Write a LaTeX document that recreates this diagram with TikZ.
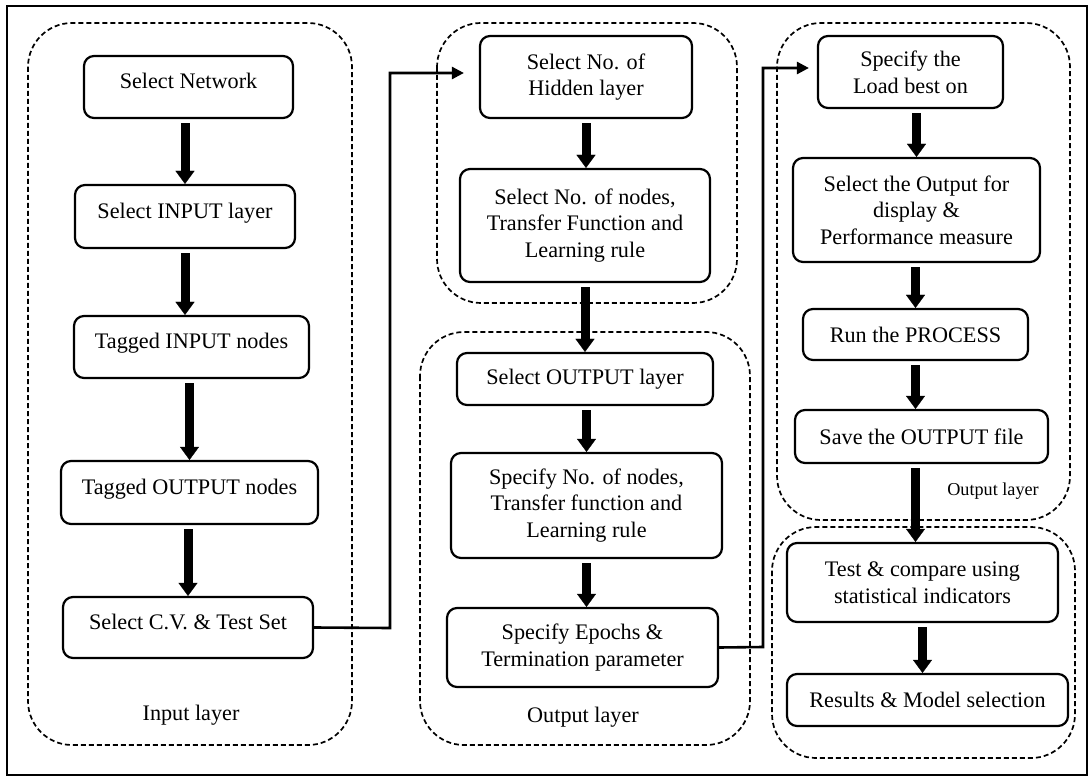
\documentclass[tikz,border=0pt]{standalone}
\usepackage{fontspec}
\setmainfont{Liberation Serif}
\usetikzlibrary{arrows.meta,calc}
\begin{document}
\begin{tikzpicture}[x=0.5pt,y=-0.5pt,
 proc/.style={draw, line width=1.1pt, rounded corners=5pt, align=center, inner sep=0pt, font=\fontsize{11.1}{13.3}\selectfont},
 raised/.style={text depth=6pt},
 grp/.style={draw, dash pattern=on 2.5pt off 1.5pt, line width=0.85pt, rounded corners=22pt},
 blk/.style={line width=4.5pt, -{Triangle[width=9.5pt,length=6.5pt,line width=0.1pt]}, shorten <=2pt},
 link/.style={line width=1.3pt, -{Triangle[width=6pt,length=6pt]}},
 lbl/.style={font=\fontsize{11.1}{13.3}\selectfont},
 slbl/.style={font=\fontsize{9.1}{11}\selectfont}]
\useasboundingbox (0,0) rectangle (1091,780);
\draw[line width=1pt] (7,6) rectangle (1087,775);
% containers
\draw[grp] (28,23) rectangle (352,745);
\draw[grp] (437,23) rectangle (737,303);
\draw[grp] (420,332) rectangle (750,745);
\draw[grp] (777,23) rectangle (1070,520);
\draw[grp] (772,527) rectangle (1075,758);
% input column
\node[proc, raised, minimum width=104.5pt, minimum height=31pt] (n1) at (188.5,87) {Select Network};
\node[proc, raised, minimum width=110pt, minimum height=31.5pt] (n2) at (185,216.5) {Select INPUT layer};
\node[proc, raised, minimum width=117.5pt, minimum height=31pt] (n3) at (191.5,347) {Tagged INPUT nodes};
\node[proc, raised, minimum width=128.5pt, minimum height=31.5pt] (n4) at (189.5,492.5) {Tagged OUTPUT nodes};
\node[proc, raised, minimum width=125pt, minimum height=30.5pt] (n5) at (188,627.5) {Select C.V. \& Test Set};
\node[lbl] (lin) at (191,715) {Input layer};
% middle column
\node[proc, minimum width=106pt, minimum height=41pt] (m1) at (586,77) {Select No. of\\Hidden layer};
\node[proc, minimum width=125pt, minimum height=56.5pt] (m2) at (585,225.5) {Select No. of nodes,\\Transfer Function and\\Learning rule};
\node[proc, minimum width=128pt, minimum height=26pt] (m3) at (585,379) {Select OUTPUT layer};
\node[proc, minimum width=135.5pt, minimum height=52.5pt] (m4) at (586.5,505.5) {Specify No. of nodes,\\Transfer function and\\Learning rule};
\node[proc, minimum width=135.5pt, minimum height=39.5pt] (m5) at (582.5,647.5) {Specify Epochs \&\\Termination parameter};
\node[lbl] (lout) at (583,717) {Output layer};
% right column
\node[proc, minimum width=92.5pt, minimum height=36pt] (r1) at (910.5,72) {Specify the\\Load best on};
\node[proc, minimum width=123.5pt, minimum height=52pt] (r2) at (916.5,210) {Select the Output for\\display \&\\Performance measure};
\node[proc, minimum width=112.5pt, minimum height=25.5pt] (r3) at (915.5,334.5) {Run the PROCESS};
\node[proc, minimum width=126.5pt, minimum height=26.5pt] (r4) at (921.5,436.5) {Save the OUTPUT file};
\node[slbl] (lout2) at (993,491) {Output layer};
\node[proc, minimum width=135.5pt, minimum height=39.5pt] (r5) at (922.5,582.5) {Test \& compare using\\statistical indicators};
\node[proc, minimum width=140.5pt, minimum height=26pt] (r6) at (927.5,700) {Results \& Model selection};
% block arrows
\draw[blk] (n1.south -| n2.north) -- (n2.north);
\draw[blk] (n2.south) -- (n2.south |- n3.north);
\draw[blk] (n3.south -| n4.north) -- (n4.north);
\draw[blk] (n4.south -| n5.north) -- (n5.north);
\draw[blk] (m1.south) -- (m1.south |- m2.north);
\draw[blk] (m2.south) -- (m2.south |- m3.north);
\draw[blk] (m3.south -| m4.north) -- (m4.north);
\draw[blk] (m4.south) -- (m4.south |- m5.north);
\draw[blk] (r1.south -| r2.north) -- (r2.north);
\draw[blk] (r2.south -| r3.north) -- (r3.north);
\draw[blk] (r3.south) -- (r3.south |- r4.north);
\draw[blk] ([xshift=-3pt]r4.south) -- ([xshift=-3pt]r4.south |- r5.north);
\draw[blk] (r5.south) -- (r5.south |- r6.north);
% links
\coordinate (k1) at (390,628);
\coordinate (k2) at (763,647);
\draw[link, shorten >=7.5pt] (n5.east) -- (k1) |- ([yshift=2pt]m1.west);
\draw[link, shorten >=4pt] (m5.east) -- (k2) |- ([yshift=2pt]r1.west);
\end{tikzpicture}
\end{document}
